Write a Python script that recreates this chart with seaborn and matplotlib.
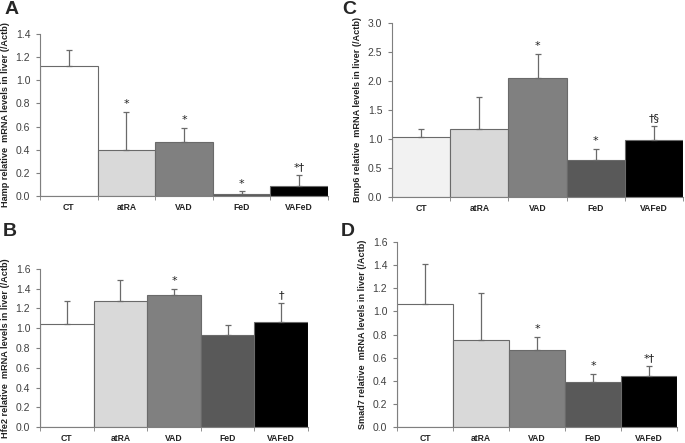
import numpy as np
import pandas as pd
import seaborn as sns
import matplotlib.pyplot as plt

grupos = ['CT', 'atRA', 'VAD', 'FeD', 'VAFeD']

hamp_media = [1.12, 0.40, 0.47, 0.02, 0.09]
hamp_sd = [0.14, 0.33, 0.12, 0.02, 0.09]
hamp_sig = ['', '*', '*', '*', '*†']

bmp6_media = [1.04, 1.17, 2.05, 0.64, 0.98]
bmp6_sd = [0.13, 0.56, 0.42, 0.19, 0.25]
bmp6_sig = ['', '', '*', '*', '†§']

hfe2_media = [1.04, 1.28, 1.34, 0.93, 1.06]
hfe2_sd = [0.24, 0.21, 0.06, 0.10, 0.20]
hfe2_sig = ['', '', '*', '', '†']

smad7_media = [1.06, 0.75, 0.67, 0.39, 0.44]
smad7_sd = [0.35, 0.41, 0.11, 0.07, 0.09]
smad7_sig = ['', '', '*', '*', '*†']

colores = ['#ffffff', '#d9d9d9', '#808080', '#595959', '#000000']
colores_c = ['#f2f2f2', '#d9d9d9', '#808080', '#595959', '#000000']

sns.set_style('white')
plt.rcParams['font.family'] = ['Liberation Sans', 'DejaVu Sans']

fig = plt.figure(figsize=(6.85, 4.43), dpi=100)

paneles = [
    # letra, rect, media, sd, sig, ymax, paso, ylabel, colores
    ('A', [0.0584, 0.5576, 0.4204, 0.3657], hamp_media, hamp_sd, hamp_sig, 1.4, 0.2,
     'Hamp relative  mRNA levels in liver (/Actb)', colores),
    ('C', [0.5723, 0.5553, 0.4248, 0.3928], bmp6_media, bmp6_sd, bmp6_sig, 3.0, 0.5,
     'Bmp6 relative  mRNA levels in liver (/Actb)', colores_c),
    ('B', [0.0584, 0.0361, 0.3912, 0.3567], hfe2_media, hfe2_sd, hfe2_sig, 1.6, 0.2,
     'Hfe2 relative  mRNA levels in liver (/Actb)', colores),
    ('D', [0.5796, 0.0361, 0.4088, 0.4176], smad7_media, smad7_sd, smad7_sig, 1.6, 0.2,
     'Smad7 relative  mRNA levels in liver (/Actb)', colores),
]

gris = '#7f7f7f'
for letra, rect, media, sd, sig, ymax, paso, ylab, cols in paneles:
    ax = fig.add_axes(rect)
    df = pd.DataFrame({'Grupo': grupos, 'Valor': media})
    sns.barplot(data=df, x='Grupo', y='Valor', hue='Grupo', palette=cols, legend=False,
                width=1.0, edgecolor='#6a6a6a', linewidth=0.8, errorbar=None, ax=ax)
    pos = np.arange(len(grupos))
    ax.errorbar(pos, media, yerr=[np.zeros(len(sd)), sd], fmt='none', ecolor='#6a6a6a',
                elinewidth=0.9, capsize=2.5, capthick=0.9)
    for p, m, s, t in zip(pos, media, sd, sig):
        if t:
            ax.annotate(t, (p, m + s), xytext=(0, 2), textcoords='offset points',
                        ha='center', va='bottom', fontsize=8, color='#222222',
                        family='DejaVu Sans')
    ax.set_xlim(-0.5, 4.5)
    ax.set_ylim(0, ymax)
    ax.set_yticks(np.arange(0, ymax + paso / 2, paso))
    ax.set_yticklabels(['%.1f' % v for v in np.arange(0, ymax + paso / 2, paso)],
                       fontsize=7.5, color='#404040')
    ax.set_xticks(pos)
    ax.set_xticklabels(grupos, fontsize=6.2, fontweight='bold', color='#222222')
    ax.set_xticks(np.arange(-0.5, 5, 1), minor=True)
    ax.tick_params(axis='x', which='major', length=0, pad=5)
    ax.tick_params(axis='x', which='minor', length=3, color=gris, direction='out', bottom=True)
    ax.tick_params(axis='y', length=3, color=gris, direction='out', left=True, pad=4)
    for lado in ['top', 'right']:
        ax.spines[lado].set_visible(False)
    for lado in ['left', 'bottom']:
        ax.spines[lado].set_color(gris)
        ax.spines[lado].set_linewidth(0.8)
    ax.set_xlabel('')
    ax.set_ylabel(ylab, fontsize=6.6, fontweight='bold', color='#222222', labelpad=4)

fig.text(0.006, 0.998, 'A', fontsize=14, fontweight='bold', va='top')
fig.text(0.499, 0.998, 'C', fontsize=14, fontweight='bold', va='top')
fig.text(0.004, 0.497, 'B', fontsize=14, fontweight='bold', va='top')
fig.text(0.497, 0.497, 'D', fontsize=14, fontweight='bold', va='top')

fig.savefig('out.png', dpi=100)
